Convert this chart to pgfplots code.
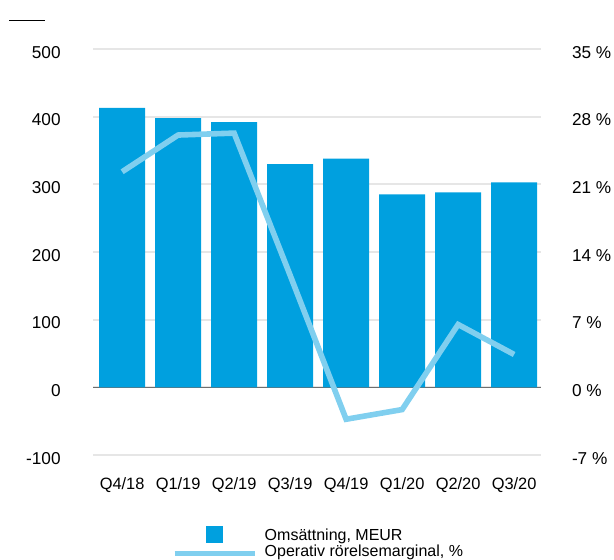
\documentclass[border=0pt]{standalone}
\usepackage{fontspec}
\setmainfont{Liberation Sans}
\usepackage{pgfplots}
\pgfplotsset{compat=1.18}

\definecolor{barblue}{RGB}{0,160,223}
\definecolor{lineblue}{RGB}{128,207,239}
\definecolor{gridgray}{RGB}{230,230,230}
\definecolor{zerogray}{RGB}{110,110,110}

\pgfplotsset{
  myaxis/.style={
    at={(46.5pt,52pt)}, anchor=south west,
    scale only axis, width=224pt, height=203pt,
    xmin=-0.52, xmax=7.48,
    axis line style={draw=none},
    major tick length=0pt,
  }
}

\begin{document}
\begin{tikzpicture}
\useasboundingbox (0,0) rectangle (307pt,279.5pt);
\draw[black, line width=0.5pt] (4.5pt,269.35pt) -- (22.35pt,269.35pt);

% left axis: revenue bars
\begin{axis}[myaxis,
  ymin=-100, ymax=500,
  ytick={-100,0,100,200,300,400,500},
  yticklabels={-100,0,100,200,300,400,500},
  yticklabel style={font=\fontsize{8.6}{10}\selectfont, anchor=east, inner sep=0pt, xshift=-16pt, yshift=-1.6pt},
  ymajorgrids, grid style={gridgray, line width=0.9pt},
  xtick={0,...,7},
  xticklabels={Q4/18,Q1/19,Q2/19,Q3/19,Q4/19,Q1/20,Q2/20,Q3/20},
  xticklabel style={font=\fontsize{8.2}{10}\selectfont, anchor=north, inner sep=0pt, yshift=-11.3pt},
]
\draw[zerogray, line width=0.8pt] (axis cs:-0.52,0) -- (axis cs:7.48,0);
\addplot[ybar, bar width=23pt, fill=barblue, draw=none] coordinates {
  (0,413) (1,398) (2,392) (3,330) (4,338) (5,285) (6,288) (7,303)
};
\end{axis}

% right axis: operating margin line
\begin{axis}[myaxis,
  ymin=-7, ymax=35,
  xtick=\empty,
  ytick={-7,0,7,14,21,28,35},
  yticklabels={-7 \%,0 \%,7 \%,14 \%,21 \%,28 \%,35 \%},
  yticklabel pos=right,
  yticklabel style={font=\fontsize{8.6}{10}\selectfont, anchor=west, inner sep=0pt, xshift=15.3pt, yshift=-1.6pt},
  legend style={at={(0.1764,-0.1749)}, anchor=north west, draw=none, fill=none,
    inner sep=0pt, outer sep=0pt, row sep=0pt, column sep=3.85pt,
    font=\fontsize{8}{8}\selectfont,
    cells={anchor=base west},
    nodes={inner sep=0pt, text height=6pt, text depth=2pt}},
]
\addlegendimage{legend image code/.code={
  \path[draw=none, fill=none] (0pt,-1pt) rectangle (40pt,7.4pt);
  \fill[barblue, draw=none] (15.8pt,-1pt) rectangle (24.2pt,7.4pt);}}
\addlegendentry{Omsättning, MEUR}
\addplot[lineblue, line width=2.8pt, line join=miter,
  legend image code/.code={
    \path[draw=none, fill=none] (0pt,-1pt) rectangle (40pt,4pt);
    \draw[lineblue, line width=2.5pt] (0pt,1.7pt) -- (40pt,1.7pt);}]
  coordinates {
  (0,22.3) (1,26.1) (2,26.3) (3,11.6) (4,-3.3) (5,-2.3) (6,6.5) (7,3.4)
};
\addlegendentry{Operativ rörelsemarginal, \%}
\end{axis}
\end{tikzpicture}
\end{document}
